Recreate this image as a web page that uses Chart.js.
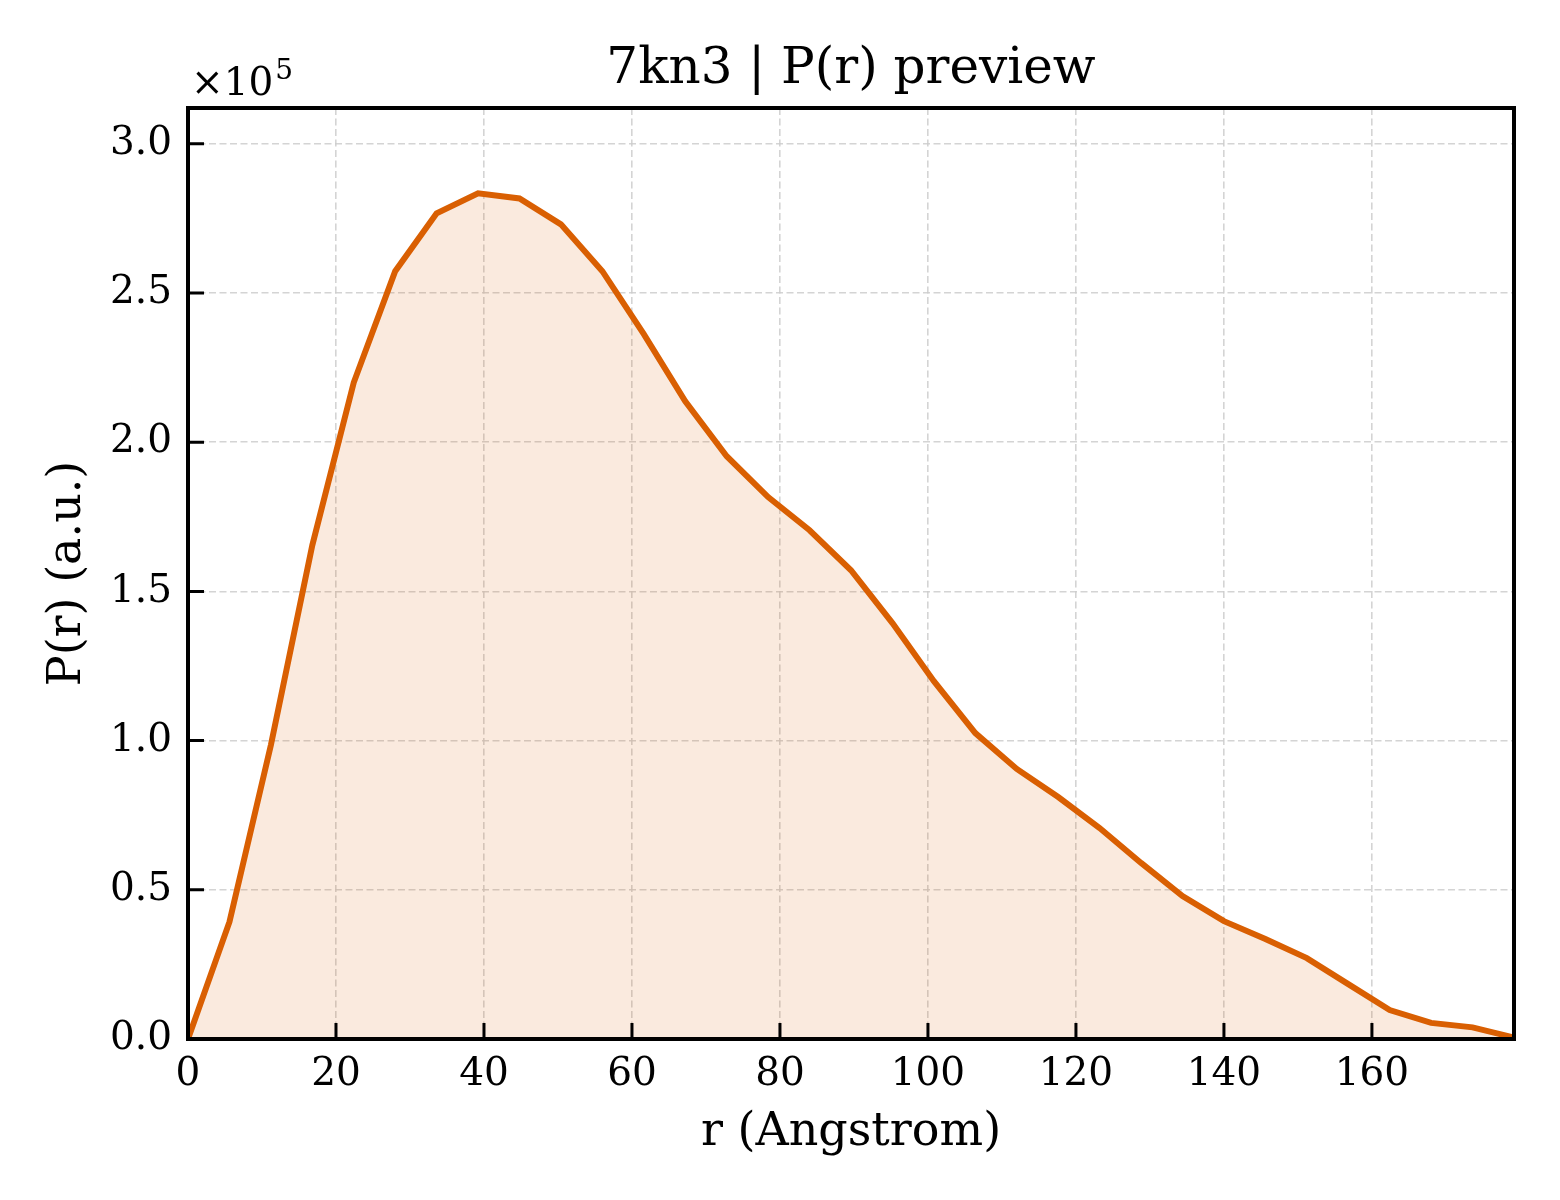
<!DOCTYPE html>
<html>
<head>
<meta charset="utf-8">
<script src="https://cdn.jsdelivr.net/npm/chart.js@4.4.1/dist/chart.umd.min.js"></script>
<style>
  html, body { margin: 0; padding: 0; background: #ffffff; }
  #wrap { width: 1560px; height: 1200px; }
</style>
</head>
<body>
<div id="wrap"><canvas id="c" width="1560" height="1200"></canvas></div>
<script>
// ---- data ----
const rValues = [0, 5.6, 11.2, 16.8, 22.4, 28.0, 33.6, 39.2, 44.8, 50.4, 56.0, 61.6, 67.2, 72.8, 78.4, 84.0,
  89.6, 95.2, 100.8, 106.4, 112.0, 117.6, 123.2, 128.8, 134.4, 140.0, 145.6, 151.2, 156.8, 162.4, 168.0, 173.6, 179.2];
const prValues = [0, 39200, 98500, 165500, 220000, 257300, 276700, 283400, 281700, 273000, 257300, 236200, 213700,
  195300, 181600, 170500, 157100, 139400, 119900, 102500, 90500, 81100, 70700, 59000, 47900, 39500, 33500, 27100,
  18400, 9700, 5400, 3900, 500];
const xTickValues = [0, 20, 40, 60, 80, 100, 120, 140, 160];
const yTickValues = [0, 50000, 100000, 150000, 200000, 250000, 300000];
const titleText = '7kn3 | P(r) preview';
const xLabel = 'r (Angstrom)';
const yLabel = 'P(r) (a.u.)';
const yScaleFactor = 1e5;

const FONT = "'DejaVu Serif', 'Liberation Serif', serif";
const lineColor = '#D95F02';
const fillColor = 'rgba(217,95,2,0.13)';
const gridColor = 'rgba(205,205,205,0.85)';

const points = rValues.map((r, i) => ({ x: r, y: prValues[i] }));

const framePlugin = {
  id: 'frame',
  afterDatasetsDraw(chart) {
    const { ctx, chartArea: a, scales } = chart;
    ctx.save();
    // inward ticks
    ctx.strokeStyle = '#000';
    ctx.lineWidth = 3;
    ctx.beginPath();
    xTickValues.forEach(v => {
      const px = scales.x.getPixelForValue(v);
      ctx.moveTo(px, a.bottom);
      ctx.lineTo(px, a.bottom - 16);
    });
    yTickValues.forEach(v => {
      const py = scales.y.getPixelForValue(v);
      ctx.moveTo(a.left, py);
      ctx.lineTo(a.left + 16, py);
    });
    ctx.stroke();
    // frame
    ctx.lineWidth = 4;
    ctx.strokeRect(a.left, a.top, a.right - a.left, a.bottom - a.top);
    // offset text x10^5
    ctx.fillStyle = '#000';
    ctx.textBaseline = 'alphabetic';
    ctx.textAlign = 'left';
    ctx.font = '39px ' + FONT;
    ctx.fillText('\u00d710', a.left + 3, a.top - 13);
    const w = ctx.measureText('\u00d710').width;
    ctx.font = '28px ' + FONT;
    ctx.fillText('5', a.left + 3 + w + 2, a.top - 29);
    ctx.restore();
  }
};

new Chart(document.getElementById('c'), {
  type: 'line',
  data: {
    datasets: [{
      data: points,
      borderColor: lineColor,
      backgroundColor: fillColor,
      borderWidth: 6,
      fill: 'origin',
      tension: 0,
      pointRadius: 0,
      borderJoinStyle: 'miter',
      borderCapStyle: 'butt'
    }]
  },
  options: {
    responsive: false,
    devicePixelRatio: 1,
    animation: false,
    layout: { padding: { left: 0, right: 46, top: 0, bottom: 0 } },
    plugins: {
      legend: { display: false },
      tooltip: { enabled: false },
      title: {
        display: true,
        text: titleText,
        fullSize: false,
        color: '#000',
        font: { family: FONT, size: 50, weight: 'normal' },
        padding: { top: 40, bottom: 8 }
      }
    },
    scales: {
      x: {
        type: 'linear',
        min: 0,
        max: 179.2,
        afterBuildTicks(scale) { scale.ticks = xTickValues.map(v => ({ value: v })); },
        afterFit(scale) { scale.height = 161; },
        ticks: {
          color: '#000',
          font: { family: FONT, size: 39 },
          padding: 12,
          maxRotation: 0,
          callback: v => String(v)
        },
        grid: { color: gridColor, lineWidth: 1.6, drawTicks: false },
        border: { display: false, dash: [7, 3.5] },
        title: {
          display: true,
          text: xLabel,
          color: '#000',
          font: { family: FONT, size: 46 },
          padding: { top: 0, bottom: 39 }
        }
      },
      y: {
        type: 'linear',
        min: 0,
        max: 312000,
        afterBuildTicks(scale) { scale.ticks = yTickValues.map(v => ({ value: v })); },
        afterFit(scale) { scale.width = 188; },
        ticks: {
          color: '#000',
          font: { family: FONT, size: 39 },
          padding: 16,
          callback: v => (v / yScaleFactor).toFixed(1)
        },
        grid: { color: gridColor, lineWidth: 1.6, drawTicks: false },
        border: { display: false, dash: [7, 3.5] },
        title: {
          display: true,
          text: yLabel,
          color: '#000',
          font: { family: FONT, size: 46 },
          padding: { top: 40, bottom: 0 }
        }
      }
    }
  },
  plugins: [framePlugin]
});
</script>
</body>
</html>
